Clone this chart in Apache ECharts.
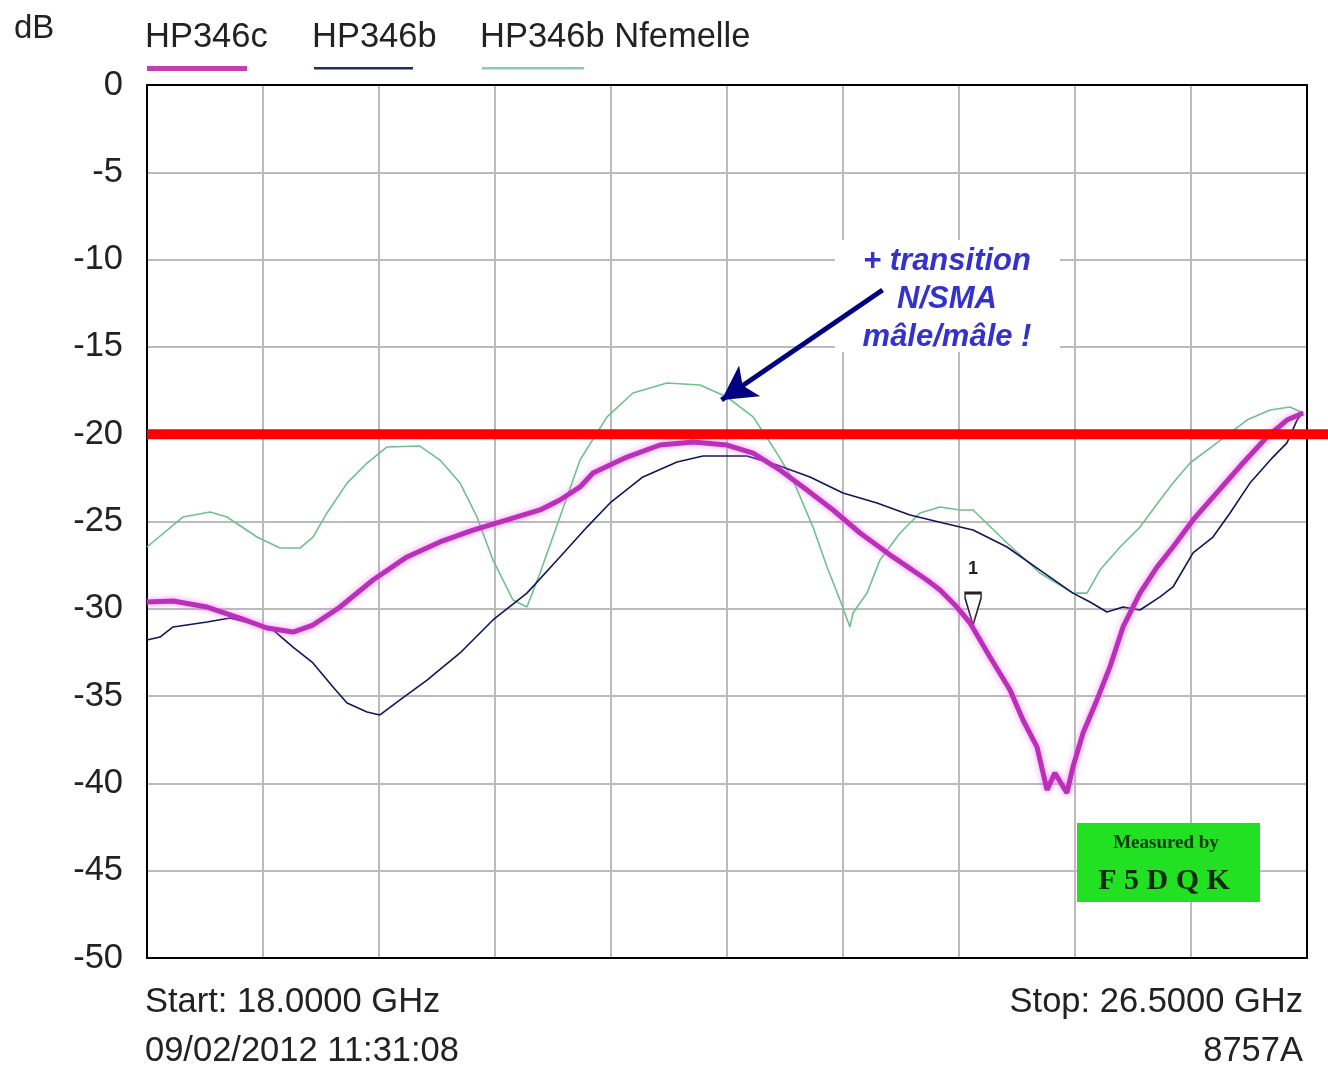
<!DOCTYPE html>
<html>
<head>
<meta charset="utf-8">
<script src="https://cdn.jsdelivr.net/npm/echarts@6/dist/echarts.min.js"></script>
<style>
  html, body { margin: 0; padding: 0; background: #fff; }
  #chart { width: 1328px; height: 1069px; }
</style>
</head>
<body>
<div id="chart"></div>
<script>
// frequencies in GHz, levels in dB
const hp346cFreq = [18.000, 18.191, 18.440, 18.681, 18.879, 19.070, 19.216, 19.414, 19.656, 19.905, 20.147, 20.389, 20.638, 20.880, 21.026, 21.173, 21.268, 21.517, 21.759, 22.001, 22.250, 22.441, 22.638, 22.836, 23.027, 23.225, 23.466, 23.715, 23.811, 23.935, 24.031, 24.177, 24.324, 24.419, 24.522, 24.595, 24.653, 24.741, 24.785, 24.859, 24.961, 25.056, 25.152, 25.276, 25.401, 25.518, 25.665, 25.811, 26.031, 26.207, 26.353, 26.471]
const hp346cDb = [-29.61, -29.55, -29.90, -30.53, -31.10, -31.33, -30.93, -29.90, -28.35, -27.03, -26.17, -25.49, -24.91, -24.34, -23.77, -23.02, -22.22, -21.31, -20.62, -20.45, -20.62, -21.08, -22.05, -23.20, -24.34, -25.66, -27.03, -28.35, -28.92, -29.90, -30.81, -32.76, -34.65, -36.37, -37.92, -40.38, -39.40, -40.55, -39.06, -37.11, -35.22, -33.33, -31.04, -29.10, -27.61, -26.46, -24.91, -23.60, -21.65, -20.16, -19.19, -18.79]

const hp346bFreq = [18.000, 18.095, 18.191, 18.440, 18.608, 18.755, 18.923, 19.070, 19.216, 19.363, 19.466, 19.612, 19.707, 19.854, 20.052, 20.294, 20.535, 20.784, 21.026, 21.224, 21.393, 21.634, 21.884, 22.074, 22.397, 22.616, 22.858, 23.100, 23.349, 23.591, 23.833, 24.053, 24.302, 24.543, 24.785, 24.910, 25.034, 25.152, 25.276, 25.423, 25.518, 25.665, 25.811, 25.936, 26.082, 26.251, 26.353, 26.427, 26.471]
const hp346bDb = [-31.79, -31.62, -31.04, -30.76, -30.53, -30.81, -31.21, -32.19, -33.10, -34.48, -35.40, -35.91, -36.08, -35.22, -34.08, -32.53, -30.64, -29.10, -27.03, -25.32, -23.94, -22.45, -21.59, -21.25, -21.25, -21.76, -22.45, -23.37, -23.94, -24.63, -25.09, -25.49, -26.46, -27.78, -29.10, -29.61, -30.18, -29.90, -30.07, -29.32, -28.75, -26.80, -25.89, -24.51, -22.80, -21.31, -20.50, -19.19, -18.73]

const nfemFreq = [18.000, 18.264, 18.462, 18.586, 18.806, 18.975, 19.121, 19.216, 19.319, 19.466, 19.612, 19.759, 20.000, 20.147, 20.294, 20.418, 20.535, 20.682, 20.784, 20.880, 21.026, 21.173, 21.371, 21.561, 21.810, 22.052, 22.250, 22.441, 22.587, 22.734, 22.880, 22.983, 23.078, 23.151, 23.173, 23.276, 23.371, 23.518, 23.664, 23.811, 23.957, 24.053, 24.302, 24.543, 24.785, 24.888, 24.983, 25.130, 25.276, 25.423, 25.518, 25.643, 25.840, 26.060, 26.229, 26.375, 26.471]
const nfemDb = [-26.46, -24.74, -24.46, -24.74, -25.89, -26.52, -26.52, -25.89, -24.51, -22.80, -21.65, -20.73, -20.68, -21.48, -22.80, -24.74, -27.20, -29.50, -29.90, -27.95, -24.74, -21.48, -19.01, -17.64, -17.07, -17.18, -17.87, -19.01, -20.73, -22.62, -25.32, -27.61, -29.50, -31.04, -30.24, -29.10, -27.20, -25.66, -24.51, -24.17, -24.34, -24.34, -26.23, -27.95, -29.10, -29.10, -27.78, -26.46, -25.32, -23.77, -22.80, -21.65, -20.50, -19.19, -18.61, -18.44, -18.79]

const dbTicks = [0, -5, -10, -15, -20, -25, -30, -35, -40, -45, -50]
const startGHz = 18
const stopGHz = 26.5
const limitDb = -20
const arrowFrom = [23.39, -11.74]
const arrowTo = [22.21, -18.04]
const marker1 = [24.053, -30.93]

const divGHz = (stopGHz - startGHz) / 10
const toDiv = f => (f - startGHz) / divGHz
const pts = (fs, ds) => fs.map((f, i) => [toDiv(f), ds[i]])

const font = 'Liberation Sans, Arial, sans-serif'
const txt = '#222'
const big = '34.5px ' + font
const frame = { show: true, onZero: false, lineStyle: { color: '#000', width: 2 } }

const chart = echarts.init(document.getElementById('chart'))
chart.setOption({
  animation: false,
  backgroundColor: '#fff',
  grid: [
    { left: 147, right: 21, top: 85, bottom: 111 },
    { left: 147, right: 0, top: 85, bottom: 111 }
  ],
  xAxis: [
    {
      type: 'value', min: 0, max: 10, interval: 1,
      axisLine: frame,
      axisTick: { show: false },
      axisLabel: { show: false },
      splitLine: { lineStyle: { color: '#bbbbbb', width: 2 } }
    },
    { type: 'value', gridIndex: 1, min: 0, max: 1, show: false },
    {
      type: 'value', position: 'top', min: 0, max: 10, z: 3,
      axisLine: frame, axisTick: { show: false }, axisLabel: { show: false }, splitLine: { show: false }
    }
  ],
  yAxis: [
    {
      type: 'value', min: -50, max: 0, interval: 5,
      axisLine: frame,
      axisTick: { show: false },
      axisLabel: {
        color: txt, fontSize: 34.5, fontFamily: font, margin: 24,
        formatter: v => dbTicks.includes(v) ? String(v) : ''
      },
      splitLine: { lineStyle: { color: '#bbbbbb', width: 2 } }
    },
    { type: 'value', gridIndex: 1, min: -50, max: 0, show: false },
    {
      type: 'value', position: 'right', min: -50, max: 0, z: 3,
      axisLine: frame, axisTick: { show: false }, axisLabel: { show: false }, splitLine: { show: false }
    }
  ],
  series: [
    {
      name: 'HP346b Nfemelle', type: 'line', showSymbol: false, z: 3,
      data: pts(nfemFreq, nfemDb),
      lineStyle: { color: '#6fc08e', width: 1.6 }
    },
    {
      name: 'HP346b', type: 'line', showSymbol: false, z: 4,
      data: pts(hp346bFreq, hp346bDb),
      lineStyle: { color: '#14145a', width: 1.6 }
    },
    {
      name: 'HP346c', type: 'line', showSymbol: false, z: 5,
      data: pts(hp346cFreq, hp346cDb),
      lineStyle: { color: '#bb2fbb', width: 5, shadowColor: 'rgba(240,120,240,0.8)', shadowBlur: 6 },
      markPoint: {
        symbol: 'path://M0,0 L16,0 L16,5 L8,32 L0,5 Z',
        symbolSize: [16, 32],
        symbolOffset: [0, '-50%'],
        itemStyle: { color: 'rgba(255,255,255,0.6)', borderColor: '#222', borderWidth: 2 },
        label: { show: true, position: 'top', distance: 14, formatter: '1', color: '#222', fontSize: 18, fontWeight: 'bold', fontFamily: font },
        data: [{ coord: [toDiv(marker1[0]), marker1[1]] }]
      },
      markLine: {
        silent: true,
        symbol: ['none', 'arrow'],
        symbolSize: [28, 34],
        lineStyle: { color: '#000080', width: 5, type: 'solid' },
        label: { show: false },
        data: [[
          { coord: [toDiv(arrowFrom[0]), arrowFrom[1]] },
          { coord: [toDiv(arrowTo[0]), arrowTo[1]] }
        ]]
      }
    },
    {
      name: 'limit', type: 'line', xAxisIndex: 1, yAxisIndex: 1, showSymbol: false, z: 6,
      data: [[0, limitDb], [1, limitDb]],
      lineStyle: { color: '#ff0000', width: 10 }
    }
  ],
  graphic: [
    { type: 'text', left: 14, top: 12, style: { text: 'dB', font: '33px ' + font, fill: txt } },
    { type: 'text', left: 145, top: 20, style: { text: 'HP346c', font: big, fill: txt } },
    { type: 'text', left: 312, top: 20, style: { text: 'HP346b', font: big, fill: txt } },
    { type: 'text', left: 480, top: 20, style: { text: 'HP346b Nfemelle', font: big, fill: txt } },
    { type: 'rect', shape: { x: 147, y: 66, width: 100, height: 5 }, style: { fill: '#c040b4' } },
    { type: 'rect', shape: { x: 314, y: 67, width: 99, height: 2.5 }, style: { fill: '#2a2a60' } },
    { type: 'rect', shape: { x: 482, y: 67, width: 102, height: 2.5 }, style: { fill: '#86cfa4' } },
    // white patch behind the note hides the grid but stays under the arrow
    { type: 'rect', z: 1, shape: { x: 835, y: 240, width: 225, height: 112 }, style: { fill: '#fff' } },
    { type: 'text', z: 2, x: 947, y: 261, style: { text: '+ transition', font: 'italic bold 31px ' + font, fill: '#3333cc', align: 'center', verticalAlign: 'middle' } },
    { type: 'text', z: 2, x: 947, y: 299, style: { text: 'N/SMA', font: 'italic bold 31px ' + font, fill: '#3333cc', align: 'center', verticalAlign: 'middle' } },
    { type: 'text', z: 2, x: 947, y: 337, style: { text: 'mâle/mâle !', font: 'italic bold 31px ' + font, fill: '#3333cc', align: 'center', verticalAlign: 'middle' } },
    { type: 'rect', z: 100, shape: { x: 1077, y: 823, width: 183, height: 79 }, style: { fill: '#22e022' } },
    { type: 'text', z: 101, x: 1166, y: 843, style: { text: 'Measured by', font: 'bold 19px Liberation Serif, serif', fill: '#0e3a0e', align: 'center', verticalAlign: 'middle' } },
    { type: 'text', z: 101, x: 1164, y: 881, style: { text: 'F 5 D Q K', font: 'bold 30px Liberation Serif, serif', fill: '#0a2a0a', align: 'center', verticalAlign: 'middle' } },
    { type: 'text', left: 145, top: 985, style: { text: 'Start: 18.0000 GHz', font: big, fill: txt } },
    { type: 'text', left: 145, top: 1034, style: { text: '09/02/2012 11:31:08', font: big, fill: txt } },
    { type: 'text', right: 25, top: 985, style: { text: 'Stop: 26.5000 GHz', font: big, fill: txt } },
    { type: 'text', right: 25, top: 1034, style: { text: '8757A', font: big, fill: txt } }
  ]
})
</script>
</body>
</html>
